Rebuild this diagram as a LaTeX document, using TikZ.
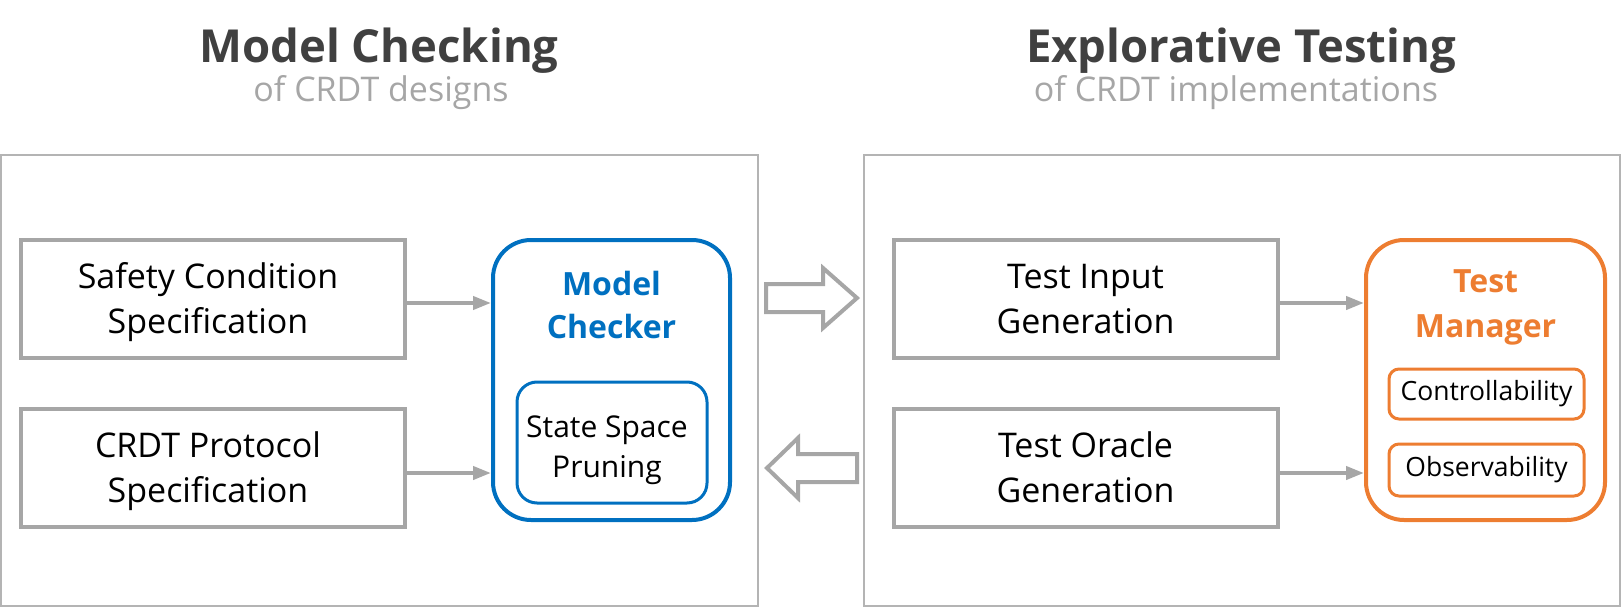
\documentclass[tikz,border=0pt]{standalone}
\usepackage{fontspec}
\setmainfont{Open Sans}
\usetikzlibrary{arrows.meta}
\definecolor{boxgray}{HTML}{A6A6A6}
\definecolor{panelgray}{HTML}{B4B4B4}
\definecolor{titlegray}{HTML}{404040}
\definecolor{subgray}{HTML}{A6A6A6}
\definecolor{mcblue}{HTML}{0070C0}
\definecolor{tmorange}{HTML}{ED7D31}
\tikzset{
  panel/.style={draw=panelgray, line width=1.5pt},
  graybox/.style={draw=boxgray, line width=4pt, minimum width=384pt, minimum height=118pt},
  boxtext/.style={font=\fontsize{34}{45}\selectfont, text=black, anchor=base},
  bluebox/.style={draw=mcblue, line width=4pt, rounded corners=38pt, minimum width=237pt, minimum height=280pt},
  orangebox/.style={draw=tmorange, line width=4pt, rounded corners=38pt, minimum width=239pt, minimum height=280pt},
  bigtitle/.style={font=\bfseries\fontsize{45.5}{50}\selectfont, text=titlegray, anchor=base},
  subtitle/.style={font=\fontsize{34}{36}\selectfont, text=subgray, anchor=base},
  headtext/.style={font=\bfseries\fontsize{32}{43}\selectfont, anchor=base},
  innerblue/.style={draw=mcblue, line width=3pt, rounded corners=20pt, minimum width=190pt, minimum height=121pt},
  innertext/.style={font=\fontsize{30}{40}\selectfont, text=black, anchor=base},
  innerorange/.style={draw=tmorange, line width=3pt, rounded corners=10pt, minimum width=195pt,
    font=\fontsize{26.5}{28}\selectfont, text=black, inner sep=0pt},
  conn/.style={draw=boxgray, line width=4pt, -{Triangle[length=18pt,width=13pt]}},
  hollow/.style={draw=boxgray, line width=4pt, line join=miter, fill=white}
}
\begin{document}
\begin{tikzpicture}[x=1pt, y=-1pt]
\useasboundingbox (0,0) rectangle (1624,607);
% titles
\node[bigtitle] (t1) at (379,63) {Model Checking};
\node[subtitle] (s1) at (381,102) {of CRDT designs};
\node[bigtitle] (t2) at (1241,63) {Explorative Testing};
\node[subtitle] (s2) at (1236,102) {of CRDT implementations};
% panels
\draw[panel] (1,155) rectangle (758,606);
\draw[panel] (864,155) rectangle (1620,606);
% left boxes
\node[graybox] (safety) at (213,299) {};
\node[boxtext] (safety1) at (208,288) {Safety Condition};
\node[boxtext] (safety2) at (208,333) {Specification};
\node[graybox] (crdt) at (213,468) {};
\node[boxtext] (crdt1) at (208,457) {CRDT Protocol};
\node[boxtext] (crdt2) at (208,502) {Specification};
\node[bluebox] (mc) at (611.5,380) {};
\node[headtext, text=mcblue] (mct1) at (611.5,295) {Model};
\node[headtext, text=mcblue] (mct2) at (611.5,338) {Checker};
\node[innerblue] (prune) at (612,442.5) {};
\node[innertext] (prune1) at (607,437) {State Space};
\node[innertext] (prune2) at (607,477) {Pruning};
\draw[conn] (safety.east |- 0,303) -- (mc.west |- 0,303);
\draw[conn] (crdt.east |- 0,473) -- (mc.west |- 0,473);
% right boxes
\node[graybox] (tin) at (1085.5,299) {};
\node[boxtext] (tin1) at (1085.5,288) {Test Input};
\node[boxtext] (tin2) at (1085.5,333) {Generation};
\node[graybox] (tor) at (1085.5,468) {};
\node[boxtext] (tor1) at (1085.5,457) {Test Oracle};
\node[boxtext] (tor2) at (1085.5,502) {Generation};
\node[orangebox] (tm) at (1485.5,380) {};
\node[headtext, text=tmorange] (tmt1) at (1485.5,292) {Test};
\node[headtext, text=tmorange] (tmt2) at (1485.5,337) {Manager};
\node[innerorange, minimum height=50pt] (ctrl) at (1486.5,394) {Controllability};
\node[innerorange, minimum height=52pt] (obs) at (1486.5,470) {Observability};
\draw[conn] (tin.east |- 0,303) -- (tm.west |- 0,303);
\draw[conn] (tor.east |- 0,473) -- (tm.west |- 0,473);
% hollow arrows
\draw[hollow] (766,284) -- (823,284) -- (823,268) -- (857,298) -- (823,328) -- (823,312) -- (766,312) -- cycle;
\draw[hollow] (857,454) -- (798,454) -- (798,438) -- (767,468) -- (798,498) -- (798,482) -- (857,482) -- cycle;
\end{tikzpicture}
\end{document}
